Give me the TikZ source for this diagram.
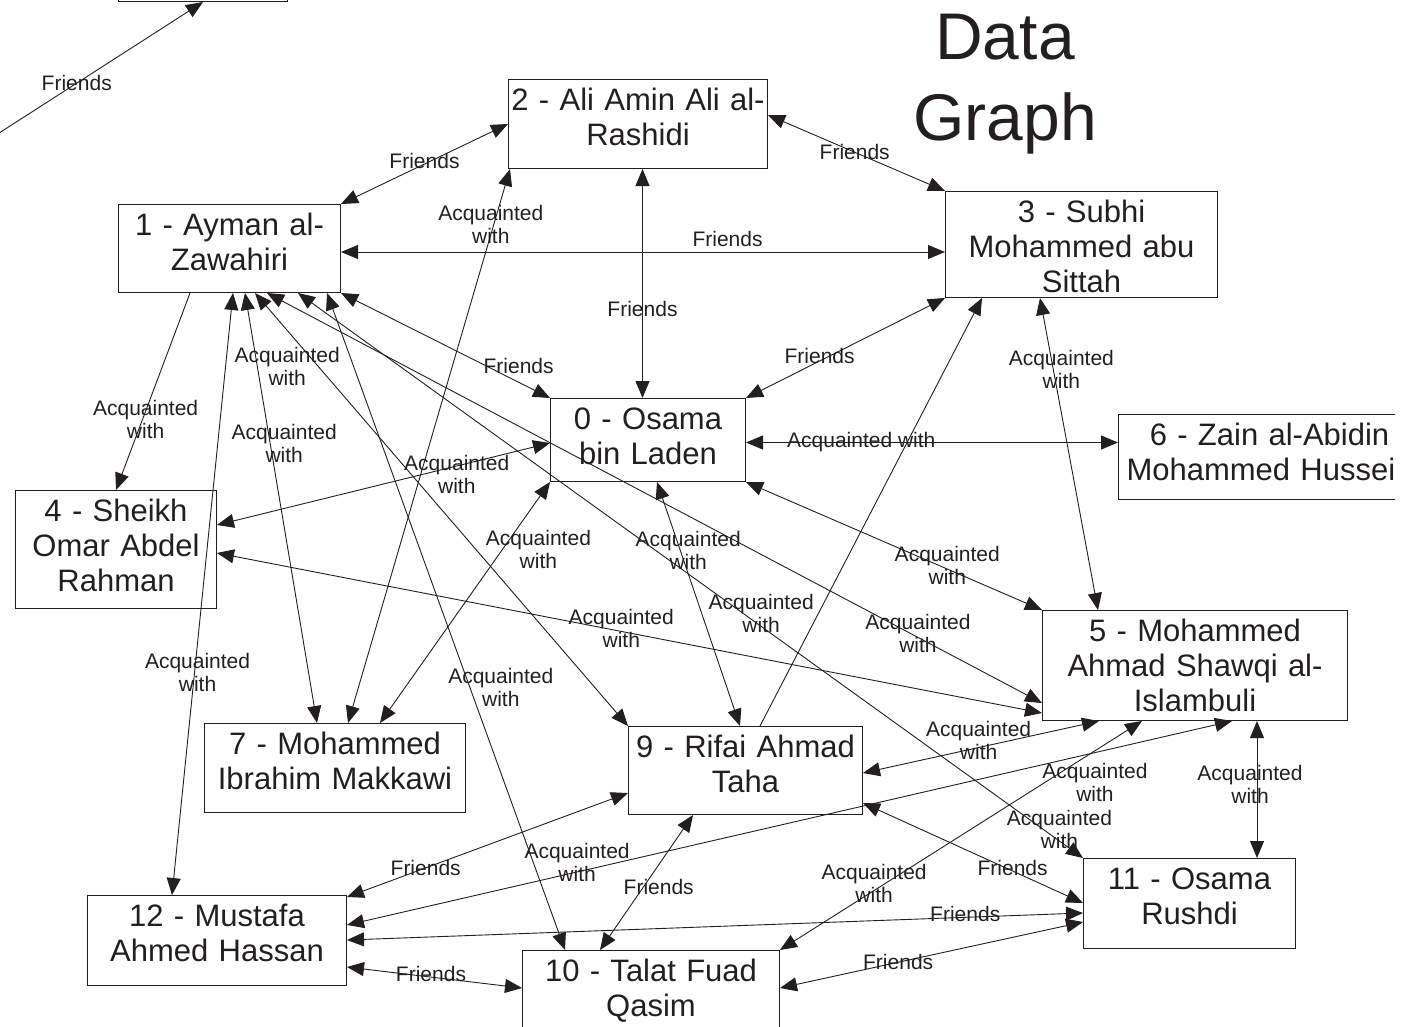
\documentclass[tikz,border=0pt]{standalone}
\usepackage{fontspec}
\setmainfont{Liberation Sans}
\usetikzlibrary{arrows.meta}

\definecolor{ink}{HTML}{231F20}
\newcommand{\namefont}{\fontsize{31pt}{35pt}\selectfont}
\newcommand{\linkfont}{\fontsize{21pt}{23pt}\selectfont}
\newcommand{\titlefont}{\fontsize{66pt}{81pt}\selectfont}

\begin{document}
\begin{tikzpicture}[
                x=1pt, y=-1pt,
                >={Triangle[length=17pt, width=14pt]},
                person/.style 2 args={draw=ink, line width=1pt, anchor=north west, inner sep=0pt,
                    align=center, font=\namefont, text=ink,
                    text width=#1pt, text height=31pt, text depth=#2pt},
                rel/.style={<->, draw=ink, line width=0.9pt},
                oneway/.style={->, draw=ink, line width=0.9pt},
                lbl/.style={font=\linkfont, text=ink, align=center, inner sep=0pt},
                heading/.style={anchor=north, inner sep=0pt, align=center, font=\titlefont,
                    text=ink, text width=300pt, text height=59pt}
            ]

            %frame
            \useasboundingbox (0,0) rectangle (1403,1026);
            \clip (0,0) rectangle (1395,1026);

            %title
            \node[heading] (title) at (1005,0) {Data\\Graph};

            %people
            \node[person={195}{52}] (osama)     at (550,398)  {0 - Osama\\bin Laden};
            \node[person={222}{57}] (zawahiri)  at (118,204)  {1 - Ayman al-\\Zawahiri};
            \node[person={259}{58}] (rashidi)   at (508,79)   {2 - Ali Amin Ali al-\\Rashidi};
            \node[person={272}{75}] (sittah)    at (945,191)  {3 - Subhi\\Mohammed abu\\Sittah};
            \node[person={201}{87}] (rahman)    at (15,490)   {4 - Sheikh\\Omar Abdel\\Rahman};
            \node[person={305}{79}] (islambuli) at (1042,610) {5 - Mohammed\\Ahmad Shawqi al-\\Islambuli};
            \node[person={302}{54}] (hussein)   at (1118,414) {6 - Zain al-Abidin\\Mohammed Hussei\phantom{n}};
            \node[person={261}{58}] (makkawi)   at (204,723)  {7 - Mohammed\\Ibrahim Makkawi};
            \node[person={234}{57}] (taha)      at (628,726)  {9 - Rifai Ahmad\\Taha};
            \node[person={257}{59}] (qasim)     at (522,950)  {10 - Talat Fuad\\Qasim};
            \node[person={212}{59}] (rushdi)    at (1083,858) {11 - Osama\\Rushdi};
            \node[person={259}{59}] (hassan)    at (87,895)   {12 - Mustafa\\Ahmed Hassan};
            \node[person={169}{59}] (upper)     at (118,-89)  {};

            %loose end
            \coordinate (farleft) at (-60,171);

            %friends
            \draw[oneway] (farleft) -- (upper.south) node[lbl, pos=0.52] {Friends};
            \draw[rel] (zawahiri.north east) -- (rashidi.west) node[lbl, pos=0.5, yshift=3pt] {Friends};
            \draw[rel] ([yshift=-36pt]rashidi.north east) -- (sittah.north west) node[lbl, pos=0.49] {Friends};
            \draw[rel] ([yshift=-3.5pt]zawahiri.east) -- ([yshift=-7.5pt]sittah.west) node[lbl, pos=0.64, yshift=13.5pt] {Friends};
            \draw[rel] ([xshift=4.5pt]rashidi.south) -- ([xshift=-5.5pt]osama.north) node[lbl, pos=0.61] {Friends};
            \draw[rel] (zawahiri.south east) -- (osama.north west) node[lbl, pos=0.85, yshift=16pt] {Friends};
            \draw[rel] (osama.north east) -- (sittah.south west) node[lbl, pos=0.37, yshift=5pt] {Friends};
            \draw[rel] ([yshift=-2pt]hassan.north east) -- ([yshift=-67pt]taha.north west) node[lbl, pos=0.28] {Friends};
            \draw[rel] ([xshift=65pt]taha.south west) -- ([xshift=78pt]qasim.north west) node[lbl, pos=0.53, xshift=15pt] {Friends};
            \draw[rel] ([yshift=-77pt]taha.north east) -- ([yshift=-45pt]rushdi.north west) node[lbl, pos=0.68, yshift=3pt] {Friends};
            \draw[rel] ([yshift=-45pt]hassan.north east) -- ([yshift=-55pt]rushdi.north west) node[lbl, pos=0.84, yshift=3pt] {Friends};
            \draw[rel] ([yshift=-38pt]qasim.north east) -- ([yshift=-64pt]rushdi.north west) node[lbl, pos=0.39] {Friends};
            \draw[rel] ([yshift=-72pt]hassan.north east) -- ([yshift=-38pt]qasim.north west) node[lbl, pos=0.48, yshift=3pt] {Friends};

            %acquaintances
            \draw[rel] ([xshift=2pt]rashidi.south west) -- ([xshift=144pt]makkawi.north west) node[lbl, pos=0.1, xshift=-3pt] {Acquainted\\with};
            \draw[rel] ([xshift=95pt]sittah.south west) -- ([xshift=56pt]islambuli.north west) node[lbl, pos=0.23, xshift=8pt] {Acquainted\\with};
            \draw[oneway] ([xshift=72pt]zawahiri.south west) -- (rahman.north) node[lbl, pos=0.64, xshift=3pt] {Acquainted\\with};
            \draw[rel] ([yshift=-2.5pt]osama.east) -- ([yshift=14.5pt]hussein.west) node[lbl, pos=0.31] {Acquainted with};
            \draw[rel] ([yshift=-35pt]rahman.north east) -- ([yshift=-45pt]osama.north west) node[lbl, pos=0.72, yshift=-9pt] {Acquainted\\with};
            \draw[rel] (osama.south west) -- ([xshift=176pt]makkawi.north west) node[lbl, pos=0.28, xshift=36pt] {Acquainted\\with};
            \draw[rel] ([xshift=107pt]osama.south west) -- ([xshift=112pt]taha.north west) node[lbl, pos=0.28, xshift=8pt] {Acquainted\\with};
            \draw[rel] (osama.south east) -- (islambuli.north west) node[lbl, pos=0.68, yshift=4pt] {Acquainted\\with};
            \draw[rel] ([xshift=180pt]zawahiri.south west) -- (rushdi.north west)
                node[lbl, pos=0.59, yshift=13pt] {Acquainted\\with}
                node[lbl, pos=0.97, yshift=12pt] {Acquainted\\with};
            \draw[rel] ([yshift=-63pt]rahman.north east) -- ([yshift=-103pt]islambuli.north west) node[lbl, pos=0.49, yshift=3pt] {Acquainted\\with};
            \draw[rel] ([xshift=149pt]zawahiri.south west) -- ([yshift=-93pt]islambuli.north west) node[lbl, pos=0.84, yshift=4pt] {Acquainted\\with};
            \draw[rel] ([xshift=115pt]zawahiri.south west) -- ([xshift=85pt]hassan.north west) node[lbl, pos=0.63, xshift=3pt] {Acquainted\\with};
            \draw[rel] ([xshift=209pt]zawahiri.south west) -- ([xshift=43pt]qasim.north west) node[lbl, pos=0.6, xshift=31pt] {Acquainted\\with};
            \draw[rel] ([yshift=-47pt]taha.north east) -- ([xshift=57pt]islambuli.south west) node[lbl, pos=0.49, yshift=7pt] {Acquainted\\with};
            \draw[rel] ([xshift=215pt]islambuli.south west) -- ([xshift=174pt]rushdi.north west) node[lbl, pos=0.46, xshift=-7pt] {Acquainted\\with};
            \draw[rel] ([yshift=-30pt]hassan.north east) -- ([xshift=190pt]islambuli.south west) node[lbl, pos=0.26, yshift=10pt] {Acquainted\\with};
            \draw[rel] (qasim.north east) -- ([xshift=100pt]islambuli.south west)
                node[lbl, pos=0.26, yshift=7pt] {Acquainted\\with}
                node[lbl, pos=0.87, yshift=-32pt] {Acquainted\\with};
            \draw[rel] ([xshift=127pt]zawahiri.south west) -- ([xshift=113pt]makkawi.north west)
                node[lbl, pos=0.17, xshift=30pt] {Acquainted\\with}
                node[lbl, pos=0.35, xshift=14pt] {Acquainted\\with};
            \draw[rel] ([xshift=137pt]zawahiri.south west) -- (taha.north west);
            \draw[oneway] ([xshift=132pt]taha.north west) -- ([xshift=37pt]sittah.south west);

\end{tikzpicture}
\end{document}
